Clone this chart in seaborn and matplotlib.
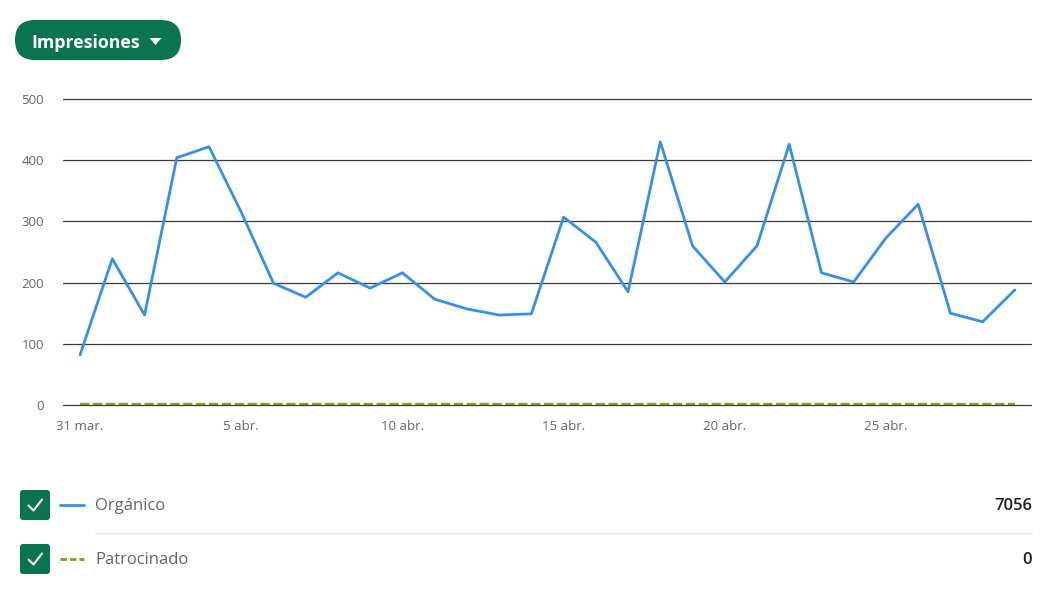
import numpy as np
import pandas as pd
import matplotlib
matplotlib.use("Agg")
import matplotlib.pyplot as plt
import seaborn as sns
from matplotlib.patches import FancyBboxPatch, Polygon

# ---- data ----
days = ["31 mar.", "1 abr.", "2 abr.", "3 abr.", "4 abr.", "5 abr.", "6 abr.", "7 abr.",
        "8 abr.", "9 abr.", "10 abr.", "11 abr.", "12 abr.", "13 abr.", "14 abr.", "15 abr.",
        "16 abr.", "17 abr.", "18 abr.", "19 abr.", "20 abr.", "21 abr.", "22 abr.", "23 abr.",
        "24 abr.", "25 abr.", "26 abr.", "27 abr.", "28 abr.", "29 abr."]
organico = [82, 239, 147, 404, 422, 315, 199, 176, 216, 191, 216, 173, 157, 147, 149, 307,
            266, 185, 430, 260, 201, 260, 426, 216, 201, 273, 328, 150, 136, 188]
patrocinado = [0] * 30
tick_labels = ["31 mar.", "5 abr.", "10 abr.", "15 abr.", "20 abr.", "25 abr."]
y_ticks = [0, 100, 200, 300, 400, 500]
totals = {"Orgánico": 7056, "Patrocinado": 0}

BLUE = "#378fe9"
OLIVE = "#8a9a1f"
GREEN = "#0a7350"

sns.set_theme(style="white")
plt.rcParams["font.family"] = ["Open Sans", "DejaVu Sans"]

df = pd.DataFrame({"idx": range(len(days)), "day": days,
                   "Orgánico": organico, "Patrocinado": patrocinado})

W, H = 1062, 597
fig = plt.figure(figsize=(W / 100, H / 100), dpi=100)
ax = fig.add_axes([63 / W, 1 - 405 / H, (1031 - 63) / W, (405 - 99) / H])

for y in y_ticks:
    ax.axhline(y, color="#3a3a3a", lw=0.9, zorder=1, clip_on=False)

sns.lineplot(data=df, x="idx", y="Orgánico", ax=ax, color=BLUE, lw=2, zorder=3)
sns.lineplot(data=df, x="idx", y="Patrocinado", ax=ax, color=OLIVE, lw=1.6,
             linestyle=(0, (4.2, 1.6)), zorder=4)
for line in ax.lines[-1:]:
    line.set_ydata(np.asarray(line.get_ydata()) + 1.8)

ax.set_xlim(-0.53, 29.5)
ax.set_ylim(0, 500)
ax.set_yticks(y_ticks)
ax.set_yticklabels([str(v) for v in y_ticks])
ax.set_xticks([days.index(t) for t in tick_labels])
ax.set_xticklabels(tick_labels)
ax.tick_params(axis="both", length=0, labelsize=9.5, labelcolor="#666666")
ax.tick_params(axis="y", pad=13.5)
ax.tick_params(axis="x", pad=10.5)
ax.set_xlabel("")
ax.set_ylabel("")
for s in ax.spines.values():
    s.set_visible(False)

# ---- overlay in pixel coords for UI decorations ----
ov = fig.add_axes([0, 0, 1, 1], zorder=10)
ov.set_xlim(0, W)
ov.set_ylim(H, 0)
ov.axis("off")
ov.patch.set_alpha(0)

# button
ov.add_patch(FancyBboxPatch((15, 20), 166, 40,
                            boxstyle="round,pad=0,rounding_size=20",
                            fc=GREEN, ec="none"))
ov.text(31, 42.5, "Impresiones", color="white", fontsize=12.8, fontweight="bold",
        va="center", ha="left")
ov.add_patch(Polygon([[149.5, 38], [161.5, 38], [155.5, 45]], closed=True,
                     fc="white", ec="none"))

# legend rows
rows = [("Orgánico", 505, BLUE, "-"), ("Patrocinado", 559, OLIVE, (0, (2.3, 1.1)))]
for name, yc, col, ls in rows:
    ov.add_patch(FancyBboxPatch((20, yc - 15), 30, 30,
                                boxstyle="round,pad=0,rounding_size=3",
                                fc=GREEN, ec="none"))
    ov.plot([28.5, 33.5, 42], [yc + 0.5, yc + 5.5, yc - 5.5], color="white", lw=1.5,
            solid_capstyle="round", solid_joinstyle="round")
    ov.plot([60, 84], [yc, yc], color=col, lw=2, linestyle=ls)
    ov.text(95, yc + 0.5, name, color="#666666", fontsize=12, va="center", ha="left")
    ov.text(1032, yc + 0.5, str(totals[name]), color="#1f1f1f", fontsize=12,
            fontweight="semibold", va="center", ha="right")

ov.plot([95, 1032], [533, 533], color="#e3e3e3", lw=1)

fig.savefig("out.png", dpi=100, facecolor="white")
